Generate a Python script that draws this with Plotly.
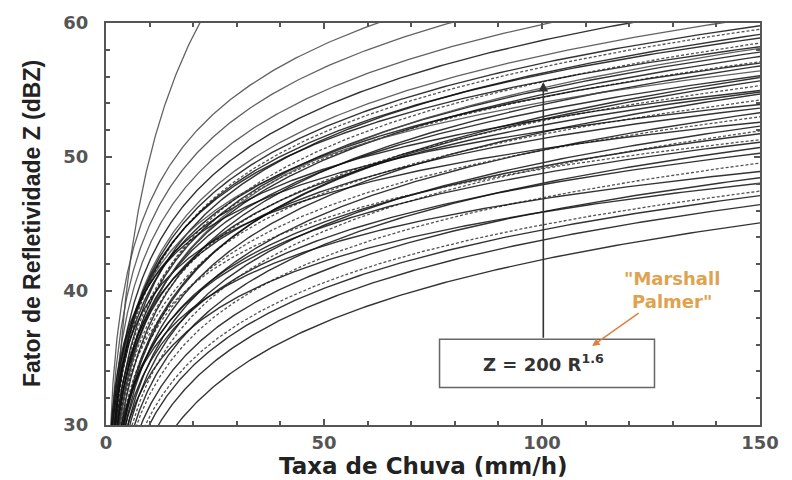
import numpy as np
import plotly.graph_objects as go

# Z = a * R^b relations (Z in mm^6/m^3, R in mm/h)
coef_a = [92, 930, 650, 500, 380, 320,
          331, 282, 222, 344, 182, 421, 200, 168, 266, 129, 533, 243, 105, 195,
          661, 88, 186, 361, 78, 162, 632, 72, 148, 283, 58, 136, 57, 233, 49,
          141, 43, 36, 24, 13, 369, 143, 261, 815, 60, 91, 173]
expo_b = [3.03, 1.69, 1.68, 1.645, 1.645, 1.626,
          1.59, 1.61, 1.64, 1.54, 1.65, 1.47, 1.60, 1.62, 1.51, 1.64, 1.34, 1.48, 1.63, 1.49,
          1.23, 1.62, 1.45, 1.29, 1.58, 1.42, 1.13, 1.55, 1.38, 1.23, 1.52, 1.33, 1.47, 1.16, 1.45,
          1.22, 1.43, 1.45, 1.50, 1.56, 1.44, 1.68, 1.41, 1.14, 1.57, 1.67, 1.32]
# line style per relation: 0 solid dark, 1 solid grey, 2 dashed
style = [1, 1, 1, 1, 0, 1,
         0, 2, 0, 0, 2, 0, 0, 0, 2, 0, 1, 0, 0, 2,
         0, 0, 2, 0, 0, 2, 0, 0, 0, 2, 0, 0, 2, 0, 0,
         0, 2, 0, 0, 0, 0, 1, 0, 0, 2, 0, 0]

x_ticks = [0, 50, 100, 150]
y_ticks = [30, 40, 50, 60]

rain = np.geomspace(0.3, 150, 500)

fig = go.Figure()
for a, b, s in zip(coef_a, expo_b, style):
    dbz = 10 * np.log10(a) + 10 * b * np.log10(rain)
    if s == 1:
        line = dict(color="rgba(70,70,70,0.85)", width=1.3)
    elif s == 2:
        line = dict(color="rgba(40,40,40,0.8)", width=1.3, dash="3px,2px")
    else:
        line = dict(color="rgba(15,15,15,0.85)", width=1.4)
    fig.add_trace(go.Scatter(x=rain, y=dbz, mode="lines", line=line,
                             hoverinfo="skip", showlegend=False))

axis_common = dict(
    showgrid=False, zeroline=False, showline=True, linecolor="#555",
    linewidth=2, mirror="allticks", ticks="inside", ticklen=6,
    tickcolor="#555", tickwidth=1.5,
)

fig.update_layout(
    width=792, height=480,
    margin=dict(l=106, r=32, t=20, b=55),
    paper_bgcolor="white", plot_bgcolor="white",
    xaxis=dict(range=[0, 150], tickvals=x_ticks,
               ticktext=[f"<b>{v}</b>" for v in x_ticks],
               tickfont=dict(family="DejaVu Sans", size=18, color="#555"),
               ticklabelstandoff=0,
               minor=dict(dtick=10, ticks="inside", ticklen=4, tickcolor="#555"),
               **axis_common),
    yaxis=dict(range=[30, 60], tickvals=y_ticks,
               ticktext=[f"<b>{v}</b>" for v in y_ticks],
               tickfont=dict(family="DejaVu Sans", size=18, color="#555"),
               ticklabelstandoff=12,
               minor=dict(dtick=2, ticks="inside", ticklen=4, tickcolor="#555"),
               **axis_common),
)

# equation box with its arrow up to the Marshall-Palmer curve
fig.add_shape(type="rect", x0=76.5, x1=125.8, y0=32.8, y1=36.4,
              xref="x", yref="y", line=dict(color="#666", width=1.5),
              fillcolor="white", layer="above")
fig.add_annotation(x=100.3, y=55.6, ax=100.3, ay=34.6, xref="x", yref="y",
                   axref="x", ayref="y",
                   text="<b>Z = 200 R<sup>1.6</sup></b>", showarrow=True,
                   arrowhead=2, arrowsize=1.2, arrowwidth=1.6, arrowcolor="#333",
                   standoff=0, borderpad=13, bordercolor="rgba(0,0,0,0)",
                   font=dict(family="DejaVu Sans", size=18, color="#333"))
# Marshall Palmer label
fig.add_annotation(x=111.5, y=35.9, ax=129.8, ay=40.1, xref="x", yref="y",
                   axref="x", ayref="y",
                   text="<b>\"Marshall<br>Palmer\"</b>", showarrow=True,
                   arrowhead=2, arrowsize=1, arrowwidth=1.5,
                   arrowcolor="#e0803f",
                   font=dict(family="DejaVu Sans", size=18, color="#e0a24e"))

# axis titles
fig.add_annotation(x=0.5, y=0, xref="paper", yref="paper", yshift=-41, xshift=-10,
                   text="<b>Taxa de Chuva (mm/h)</b>", showarrow=False,
                   yanchor="middle", borderpad=0,
                   font=dict(family="DejaVu Sans", size=23, color="#222"))
fig.add_annotation(x=0, y=0.5, xref="paper", yref="paper", xshift=-74,
                   text="<b>Fator de Refletividade Z (dBZ)</b>", showarrow=False,
                   textangle=-90, xanchor="center",
                   font=dict(family="Liberation Sans Narrow, Liberation Sans", size=23, color="#222"))

fig.write_html("out.html")
